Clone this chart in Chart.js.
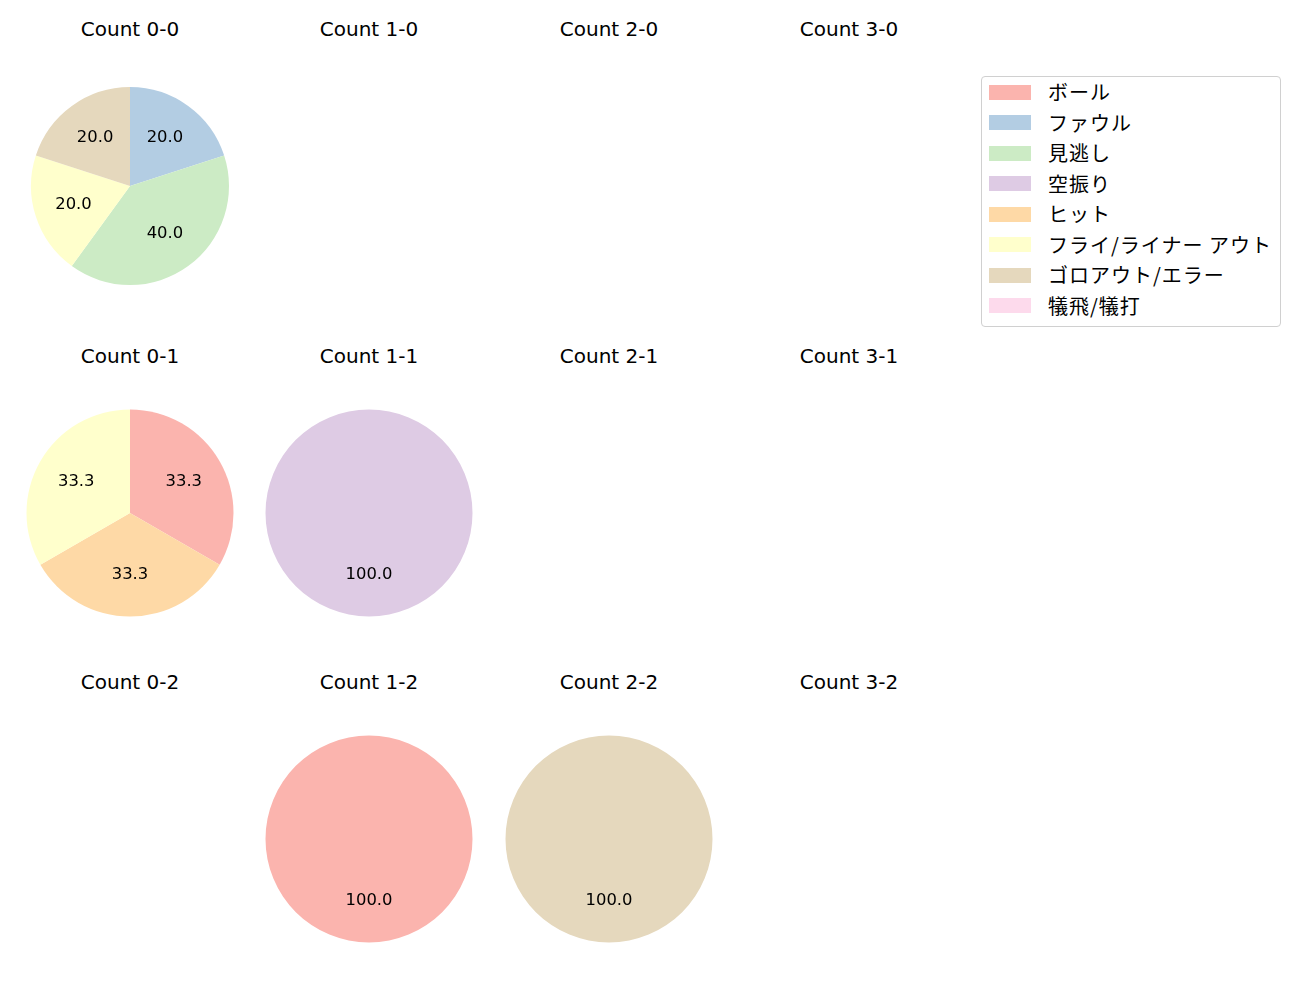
<!DOCTYPE html>
<html><head><meta charset="utf-8">
<script src="https://cdn.jsdelivr.net/npm/chart.js@4/dist/chart.umd.min.js"></script>
<style>
body{margin:0;width:1300px;height:1000px;background:#fff;position:relative;font-family:"DejaVu Sans","Noto Sans CJK JP",sans-serif;overflow:hidden}
.t{position:absolute;width:240px;text-align:center;font-size:20px;color:#000;line-height:24px;font-family:"DejaVu Sans",sans-serif}
.c{position:absolute}
#legend{position:absolute;left:981px;top:76px;width:300px;height:251px;border:1px solid #d0d0d0;border-radius:4px;box-sizing:border-box}
.li{position:absolute;left:7px;height:24px;font-size:20px;line-height:24px;font-family:"Noto Sans CJK JP",sans-serif;color:#000;letter-spacing:1px}
.sw{position:absolute;left:0;top:4.5px;width:42px;height:15px}
.lt{position:absolute;left:59px;top:0;white-space:nowrap}
</style></head><body>
<div id="legend"></div>
<script>
const categories=['ボール','ファウル','見逃し','空振り','ヒット','フライ/ライナー アウト','ゴロアウト/エラー','犠飛/犠打'];
const colors=['#fbb4ae','#b3cde3','#ccebc5','#decbe4','#fed9a6','#ffffcc','#e5d8bd','#fddaec'];
const balls=[0,1,2,3];
const strikes=[0,1,2];
const count_0_0=[0,1,2,0,0,1,1,0];
const count_0_1=[1,0,0,0,1,1,0,0];
const count_1_1=[0,0,0,1,0,0,0,0];
const count_1_2=[1,0,0,0,0,0,0,0];
const count_2_2=[0,0,0,0,0,0,1,0];
const cellData={'0-0':count_0_0,'0-1':count_0_1,'1-1':count_1_1,'1-2':count_1_2,'2-2':count_2_2};

const colX=[130,369,609,849];
const rowY=[186,512.5,839];
const titleY=[29,356,682];
const radii={'0-0':99};

const pctLabels={id:'pctLabels',afterDatasetsDraw(chart){
  const ctx=chart.ctx;const ds=chart.data.datasets[0];
  const total=ds.data.reduce((a,b)=>a+b,0);
  const meta=chart.getDatasetMeta(0);
  ctx.save();ctx.fillStyle='#000';ctx.font='16.4px "DejaVu Sans",sans-serif';
  ctx.textAlign='center';ctx.textBaseline='middle';
  meta.data.forEach((el,i)=>{
    const v=ds.data[i];if(!v)return;
    const a=(el.startAngle+el.endAngle)/2;const r=el.outerRadius*0.6;
    ctx.fillText((v/total*100).toFixed(1),el.x+Math.cos(a)*r,el.y+Math.sin(a)*r);
  });
  ctx.restore();
}};

strikes.forEach((s,ri)=>{
  balls.forEach((b,ci)=>{
    const key=b+'-'+s;
    const t=document.createElement('div');t.className='t';
    t.style.left=(colX[ci]-120)+'px';t.style.top=(titleY[ri]-12)+'px';
    t.textContent='Count '+key;document.body.appendChild(t);
    const data=cellData[key];
    if(!data)return;
    const wrap=document.createElement('div');wrap.className='c';
    const size=230;
    wrap.style.left=(colX[ci]-size/2)+'px';wrap.style.top=(rowY[ri]-size/2)+'px';
    wrap.style.width=size+'px';wrap.style.height=size+'px';
    const cv=document.createElement('canvas');wrap.appendChild(cv);document.body.appendChild(wrap);
    new Chart(cv,{type:'pie',data:{labels:categories,datasets:[{data:data,backgroundColor:colors,borderWidth:0}]},
      options:{responsive:true,maintainAspectRatio:false,animation:false,radius:radii[key]||103.5,
        plugins:{legend:{display:false},tooltip:{enabled:false}},layout:{padding:0}},plugins:[pctLabels]});
  });
});

const lg=document.getElementById('legend');
categories.forEach((c,i)=>{
  const d=document.createElement('div');d.className='li';d.style.top=(3+i*30.5)+'px';
  d.innerHTML='<div class="sw" style="background:'+colors[i]+'"></div><div class="lt"></div>';
  d.querySelector('.lt').textContent=c;lg.appendChild(d);
});
</script>
</body></html>
